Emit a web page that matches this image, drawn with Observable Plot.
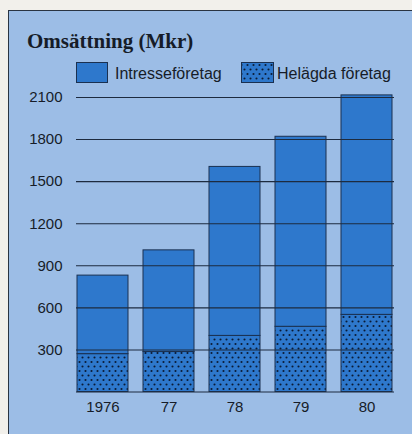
<!DOCTYPE html>
<html>
<head>
<meta charset="utf-8">
<script src="https://cdn.jsdelivr.net/npm/d3@7"></script>
<script src="https://cdn.jsdelivr.net/npm/@observablehq/plot@0.6"></script>
<style>
  html, body { margin: 0; padding: 0; background: #f2f0eb; }
  #wrap { position: relative; width: 412px; height: 434px; overflow: hidden; }
  #panel { position: absolute; left: 8px; top: 10px; width: 410px; height: 430px;
           background: #9cbde6; border-left: 1.5px solid #2a3442; border-top: 1.5px solid #2a3442; }
  #chart { position: absolute; left: 0; top: 0; }
  #overlay { position: absolute; left: 0; top: 0; pointer-events: none; }
</style>
</head>
<body>
<div id="wrap">
  <div id="panel"></div>
  <div id="chart"></div>
  <svg id="overlay" width="412" height="434" xmlns="http://www.w3.org/2000/svg">
    <text x="27" y="48" font-family="'Liberation Serif', 'Times New Roman', serif" font-weight="bold" font-size="21" fill="#161c28">Omsättning (Mkr)</text>
    <rect x="76.5" y="62.5" width="31" height="20" fill="#2e78cc" stroke="#1a3050" stroke-width="1"/>
    <text x="115" y="79" font-family="'Liberation Sans', Arial, sans-serif" font-size="16" fill="#161c28">Intresseföretag</text>
    <rect x="241.5" y="62.5" width="32" height="20" fill="url(#dots)" stroke="#1a3050" stroke-width="1"/>
    <text x="277" y="79" font-family="'Liberation Sans', Arial, sans-serif" font-size="16" fill="#161c28">Helägda företag</text>
  </svg>
</div>
<script>
// Data
const years = ["1976", "77", "78", "79", "80"];
const helagda = [270, 285, 400, 465, 550];          // Helägda företag (Mkr)
const intresse = [560, 725, 1205, 1355, 1565];      // Intresseföretag (Mkr)
const yTicks = [300, 600, 900, 1200, 1500, 1800, 2100];

const barBlue = "#2e78cc";
const rows = years.map((y, i) => ({
  year: y,
  hel: helagda[i],
  total: helagda[i] + intresse[i]
}));

const plot = Plot.plot({
  width: 412,
  height: 434,
  marginTop: 97,
  marginBottom: 42.5,
  marginLeft: 76,
  marginRight: 18,
  style: {
    background: "transparent",
    fontFamily: "'Liberation Sans', Arial, sans-serif",
    fontSize: "15px",
    color: "#161c28",
    overflow: "visible"
  },
  x: { domain: years, paddingInner: 0.22, paddingOuter: 0 },
  y: { domain: [0, 2100] },
  marks: [
    Plot.barY(rows, { x: "year", y1: 0, y2: "hel", fill: "url(#dots)", stroke: "#1a3050", strokeWidth: 1 }),
    Plot.barY(rows, { x: "year", y1: "hel", y2: "total", fill: barBlue, stroke: "#1a3050", strokeWidth: 1 }),
    Plot.ruleY(yTicks, { stroke: "#1d2b3f", strokeWidth: 1.1 }),
    Plot.ruleY([0], { stroke: "#1d2b3f", strokeWidth: 1.2 }),
    Plot.axisX({ label: null, tickSize: 0, tickPadding: 9, fontSize: 15, fill: "#161c28" }),
    Plot.axisY({ ticks: yTicks, tickFormat: d => String(d), label: null, tickSize: 0, tickPadding: 14, fontSize: 15, fill: "#161c28" })
  ]
});

// dotted pattern for "Helägda företag"
const defs = d3.select(plot).insert("defs", ":first-child");
const pat = defs.append("pattern")
  .attr("id", "dots")
  .attr("patternUnits", "userSpaceOnUse")
  .attr("width", 6)
  .attr("height", 9);
pat.append("rect").attr("width", 6).attr("height", 9).attr("fill", barBlue);
pat.append("circle").attr("cx", 1.5).attr("cy", 2).attr("r", 1.05).attr("fill", "#0a1a34");
pat.append("circle").attr("cx", 4.5).attr("cy", 6.5).attr("r", 1.05).attr("fill", "#0a1a34");

document.getElementById("chart").appendChild(plot);
</script>
</body>
</html>
